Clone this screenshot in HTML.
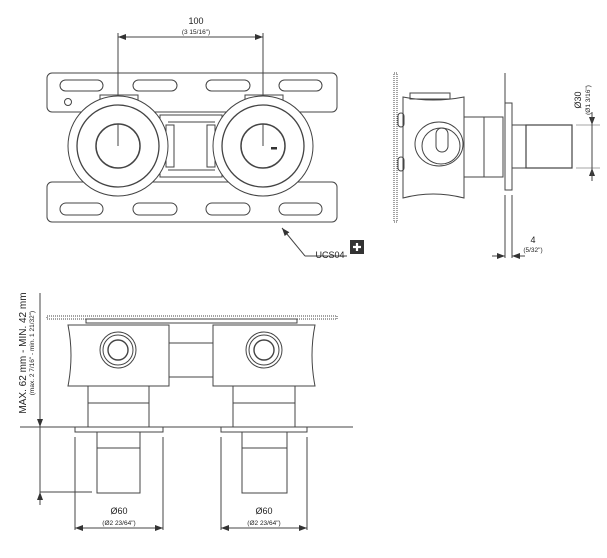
<!DOCTYPE html>
<html><head><meta charset="utf-8"><style>
html,body{margin:0;padding:0;background:#fff;}
svg{display:block;font-family:"Liberation Sans",sans-serif;}
</style></head><body>
<svg width="607" height="558" viewBox="0 0 607 558" xmlns="http://www.w3.org/2000/svg">
<defs>
<marker id="a" markerWidth="8" markerHeight="6" refX="8" refY="3" orient="auto-start-reverse" markerUnits="userSpaceOnUse"><path d="M0,0 L8,3 L0,6 z" fill="#333"/></marker>
</defs>
<g fill="none" stroke="#444" stroke-width="1">
<!-- TOP VIEW -->
<line x1="118" y1="33" x2="118" y2="146"/>
<line x1="263" y1="33" x2="263" y2="146"/>
<line x1="118" y1="37" x2="263" y2="37" marker-start="url(#a)" marker-end="url(#a)"/>
<rect x="47" y="73" width="290" height="39" rx="5"/>
<rect x="47" y="182" width="290" height="40" rx="5"/>
<rect x="60" y="80" width="43" height="11" rx="5.5"/>
<rect x="133" y="80" width="44" height="11" rx="5.5"/>
<rect x="206" y="80" width="44" height="11" rx="5.5"/>
<rect x="279" y="80" width="43" height="11" rx="5.5"/>
<rect x="60" y="203" width="43" height="12" rx="6"/>
<rect x="133" y="203" width="44" height="12" rx="6"/>
<rect x="206" y="203" width="44" height="12" rx="6"/>
<rect x="279" y="203" width="43" height="12" rx="6"/>
<circle cx="68" cy="102" r="3.5"/>
<rect x="100" y="95" width="38" height="8"/>
<rect x="245" y="95" width="38" height="8"/>
<rect x="160" y="115" width="62" height="62" fill="#fff"/>
<line x1="168" y1="122" x2="215" y2="122"/>
<line x1="168" y1="170" x2="215" y2="170"/>
<rect x="166" y="125" width="8" height="42" fill="#fff"/>
<rect x="207" y="125" width="8" height="42" fill="#fff"/>
<circle cx="118" cy="146" r="50" fill="#fff"/>
<circle cx="118" cy="146" r="41" stroke-width="1.3"/>
<circle cx="118" cy="146" r="22" stroke-width="1.5"/>
<circle cx="263" cy="146" r="50" fill="#fff"/>
<circle cx="263" cy="146" r="41" stroke-width="1.3"/>
<circle cx="263" cy="146" r="22" stroke-width="1.5"/>
<line x1="118" y1="124" x2="118" y2="146"/>
<line x1="263" y1="124" x2="263" y2="146"/>
<line x1="305" y1="256" x2="282" y2="228" marker-end="url(#a)"/>
<line x1="305" y1="256" x2="347" y2="256"/>
<!-- SIDE VIEW -->
<rect x="394" y="73" width="3" height="149" stroke-dasharray="1 1"/>
<path d="M403 97 Q433 103 464 97 L464 198 Q433 190 403 198 Z"/>
<rect x="410" y="93" width="40" height="6"/>
<rect x="398" y="113" width="6" height="14" rx="3"/>
<rect x="398" y="157" width="6" height="14" rx="3"/>
<rect x="464" y="117" width="39" height="60"/>
<line x1="484" y1="117" x2="484" y2="177"/>
<ellipse cx="439" cy="144" rx="24" ry="22"/>
<ellipse cx="441" cy="146" rx="19" ry="18"/>
<rect x="436" y="128" width="12" height="24" rx="6"/>
<line x1="505" y1="73" x2="505" y2="103"/>
<rect x="505" y="103" width="7" height="87"/>
<line x1="505" y1="195" x2="505" y2="258"/>
<line x1="512" y1="195" x2="512" y2="258"/>
<rect x="512" y="125" width="14" height="43"/>
<rect x="526" y="125" width="46" height="43" stroke-width="1.2"/>
<line x1="576" y1="125" x2="600" y2="125" stroke="#888" stroke-width="0.7"/>
<line x1="576" y1="168" x2="600" y2="168" stroke="#888" stroke-width="0.7"/>
<line x1="592" y1="112" x2="592" y2="125" marker-end="url(#a)"/>
<line x1="592" y1="181" x2="592" y2="168" marker-end="url(#a)"/>
<line x1="592" y1="112" x2="592" y2="181"/>
<line x1="492" y1="256" x2="505" y2="256" marker-end="url(#a)"/>
<line x1="525" y1="256" x2="512" y2="256" marker-end="url(#a)"/>
<!-- BOTTOM VIEW -->
<line x1="40" y1="293" x2="40" y2="505"/>
<line x1="40" y1="410" x2="40" y2="427" marker-end="url(#a)"/>
<line x1="40" y1="505" x2="40" y2="492" marker-end="url(#a)"/>
<line x1="20" y1="427" x2="353" y2="427"/>
<line x1="40" y1="492" x2="92" y2="492"/>
<rect x="47" y="316" width="290" height="3" stroke-dasharray="1 1"/>
<rect x="86" y="319" width="211" height="4"/>
<path d="M68 325 L169 325 L169 386 L68 386 Q74 355 68 325 Z" fill="#fff"/>
<path d="M213 325 L315 325 Q309 355 315 386 L213 386 Z" fill="#fff"/>
<rect x="169" y="343" width="44" height="34"/>
<circle cx="118" cy="350" r="18"/><circle cx="118" cy="350" r="15"/><circle cx="118" cy="350" r="10" stroke-width="1.4"/>
<circle cx="264" cy="350" r="18"/><circle cx="264" cy="350" r="15"/><circle cx="264" cy="350" r="10" stroke-width="1.4"/>
<rect x="88" y="386" width="61" height="41"/><line x1="88" y1="403" x2="149" y2="403"/>
<rect x="233" y="386" width="62" height="41"/><line x1="233" y1="403" x2="295" y2="403"/>
<rect x="75" y="427" width="88" height="5"/>
<rect x="221" y="427" width="86" height="5"/>
<rect x="97" y="432" width="43" height="16"/><rect x="97" y="448" width="43" height="45"/>
<rect x="242" y="432" width="45" height="16"/><rect x="242" y="448" width="45" height="45"/>
<line x1="75" y1="437" x2="75" y2="530"/><line x1="163" y1="437" x2="163" y2="530"/>
<line x1="221" y1="437" x2="221" y2="530"/><line x1="307" y1="437" x2="307" y2="530"/>
<line x1="75" y1="528" x2="163" y2="528" marker-start="url(#a)" marker-end="url(#a)"/>
<line x1="221" y1="528" x2="307" y2="528" marker-start="url(#a)" marker-end="url(#a)"/>
</g>
<g fill="#222" text-anchor="middle">
<text x="196" y="24" font-size="9">100</text>
<text x="196" y="34" font-size="6.5">(3 15/16")</text>
<text x="330" y="258" font-size="9">UCS04</text>
<text x="533" y="243" font-size="9">4</text>
<text x="533" y="252" font-size="6.5">(5/32")</text>
<text transform="translate(581,100) rotate(-90)" font-size="9">Ø30</text>
<text transform="translate(590,100) rotate(-90)" font-size="6.5">(Ø1 3/16")</text>
<text transform="translate(26,353) rotate(-90)" font-size="10">MAX. 62 mm - MIN. 42 mm</text>
<text transform="translate(34,353) rotate(-90)" font-size="6.5">(max. 2 7/16" - min. 1 21/32")</text>
<text x="119" y="514" font-size="9">Ø60</text>
<text x="119" y="525" font-size="6.5">(Ø2 23/64")</text>
<text x="264" y="514" font-size="9">Ø60</text>
<text x="264" y="525" font-size="6.5">(Ø2 23/64")</text>
</g>
<rect x="350" y="240" width="14" height="14" fill="#333"/>
<path d="M357 243 v8 M353 247 h8" stroke="#fff" stroke-width="2.2"/>
<rect x="271" y="147" width="6" height="2.5" fill="#333"/>
</svg>
</body></html>
